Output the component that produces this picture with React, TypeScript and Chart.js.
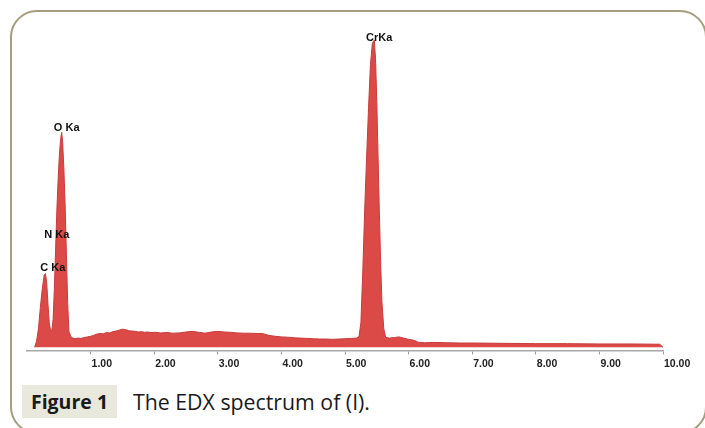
import React, { useEffect, useRef } from "react";
import { Chart, registerables } from "chart.js";

Chart.register(...registerables);

// Spectrum (energy in keV, counts in relative units)
const energy = [
  0.12, 0.15, 0.18, 0.21, 0.24, 0.27, 0.29, 0.31, 0.33, 0.35, 0.37, 0.39, 0.41, 0.43, 0.45, 0.47, 0.49,
  0.51, 0.53, 0.545, 0.56, 0.58, 0.6, 0.62, 0.64, 0.66, 0.69, 0.72, 0.76, 0.8, 0.85, 0.9, 0.95, 1.0,
  1.05, 1.1, 1.15, 1.2, 1.25, 1.3, 1.35, 1.4, 1.45, 1.5, 1.55, 1.6, 1.65, 1.7, 1.75, 1.8, 1.85, 1.9,
  1.95, 2.0, 2.1, 2.2, 2.3, 2.4, 2.5, 2.6, 2.7, 2.8, 2.9, 3.0, 3.1, 3.2, 3.3, 3.4, 3.5, 3.6, 3.7, 3.8,
  3.9, 4.0, 4.1, 4.2, 4.3, 4.4, 4.5, 4.6, 4.7, 4.8, 4.9, 5.0, 5.1, 5.18, 5.22, 5.25, 5.28, 5.31, 5.34,
  5.37, 5.4, 5.43, 5.46, 5.48, 5.5, 5.52, 5.54, 5.56, 5.58, 5.61, 5.64, 5.7, 5.78, 5.85, 5.92, 6.0,
  6.08, 6.12, 6.16, 6.25, 6.4, 6.6, 6.8, 7.0, 7.5, 8.0, 8.5, 9.0, 9.5, 9.95, 10.0,
];
const counts = [
  0, 2, 6, 13, 19, 23.5, 24, 21, 14, 8, 5.5, 5.5, 9, 19, 32, 45, 55,
  63, 68, 70, 67, 58, 46, 30, 14, 5, 3.5, 3, 2.8, 3, 2.9, 3.2, 3.4, 3.6,
  3.9, 4.3, 4.5, 4.4, 4.8, 4.7, 5.1, 5.3, 5.6, 5.9, 5.8, 5.4, 5.3, 5.2, 5.0, 5.1, 4.9, 5.0,
  4.8, 4.9, 4.7, 4.8, 4.6, 4.7, 5.0, 5.2, 4.9, 4.6, 5.0, 5.2, 5.0, 4.9, 4.7, 4.6, 4.6, 4.5, 4.5, 3.9,
  3.6, 3.4, 3.3, 3.1, 3.0, 2.9, 2.8, 2.7, 2.7, 2.6, 2.7, 2.8, 2.9, 3.0, 3.5, 8, 25, 45, 62,
  78, 92, 99, 100, 94, 80, 62, 44, 28, 15, 6, 3.2, 3.0, 3.2, 3.4, 3.0, 2.6,
  2.3, 2.0, 1.6, 1.5, 1.6, 1.5, 1.4, 1.4, 1.3, 1.2, 1.2, 1.1, 1.1, 1.0, 0,
];

// Fitted background line drawn inside the spectrum
const bgEnergy = [0.7, 1.0, 1.5, 2.0, 2.5, 3.0, 3.5, 4.0, 4.5, 5.0, 6.0];
const bgCounts = [2.4, 2.9, 3.4, 3.5, 3.5, 3.4, 3.2, 2.7, 2.3, 2.2, 1.7];

// X axis ticks (keV)
const tickValues = [1, 2, 3, 4, 5, 6, 7, 8, 9, 10];

// Peak labels
const peakLabels = ["C Ka", "N Ka", "O Ka", "CrKa"];
const peakEnergies = [0.28, 0.39, 0.545, 5.46];
const peakLabelLevels = [25.9, 36.5, 71.5, 100.6];

const labelPlugin = {
  id: "peakLabels",
  afterDatasetsDraw(chart: any) {
    const { ctx, scales } = chart;
    const xs = scales.x;
    const ys = scales.y;
    ctx.save();
    ctx.font = "bold 11px 'Liberation Sans', Arial, sans-serif";
    ctx.textAlign = "center";
    ctx.textBaseline = "middle";
    ctx.fillStyle = "#111";
    peakLabels.forEach((t, i) => {
      const x = xs.getPixelForValue(peakEnergies[i]) + (i === 0 ? 8 : 5);
      const y = ys.getPixelForValue(peakLabelLevels[i]);
      ctx.fillText(t, x, y);
    });
    ctx.restore();
  },
};

function EdxChart() {
  const ref = useRef<HTMLCanvasElement | null>(null);
  useEffect(() => {
    if (!ref.current) return;
    const chart = new Chart(ref.current, {
      type: "line",
      data: {
        datasets: [
          {
            data: energy.map((e, i) => ({ x: e, y: counts[i] })),
            fill: "origin",
            backgroundColor: "#dc4a47",
            borderColor: "#c93d3b",
            borderWidth: 1,
            pointRadius: 0,
            tension: 0,
          },
          {
            data: bgEnergy.map((e, i) => ({ x: e, y: bgCounts[i] })),
            fill: false,
            borderColor: "rgba(140,35,35,0.55)",
            borderWidth: 1,
            pointRadius: 0,
            tension: 0,
          },
        ],
      },
      options: {
        animation: false,
        responsive: true,
        maintainAspectRatio: false,
        layout: { padding: { left: 27, right: 42, top: 34, bottom: 7 } },
        plugins: { legend: { display: false }, tooltip: { enabled: false } },
        scales: {
          x: {
            type: "linear",
            min: 0,
            max: 10,
            afterBuildTicks: (s: any) => {
              s.ticks = tickValues.map((v) => ({ value: v }));
            },
            ticks: {
              align: "start",
              labelOffset: 1,
              padding: 3,
              autoSkip: false,
              maxRotation: 0,
              color: "#222",
              font: { family: "'Liberation Sans', Arial, sans-serif", size: 10.5, weight: "bold" },
              callback: (v: any) => Number(v).toFixed(2),
            },
            grid: { drawOnChartArea: false, drawTicks: true, tickLength: 4, color: "#999" },
            border: { color: "#a8a8a8", width: 1.5 },
          },
          y: { display: false, min: -1, max: 102 },
        },
      } as any,
      plugins: [labelPlugin],
    });
    return () => chart.destroy();
  }, []);
  return <canvas ref={ref} />;
}

export default function App() {
  return (
    <div
      style={{
        position: "fixed",
        left: 0,
        top: 0,
        width: 705,
        height: 428,
        overflow: "hidden",
        background: "#fff",
      }}
    >
      <div
        style={{
          position: "absolute",
          left: 10,
          top: 10,
          width: 697,
          height: 424,
          boxSizing: "border-box",
          border: "2px solid #a39e7e",
          borderRadius: 27,
        }}
      />
      <div style={{ position: "absolute", left: 0, top: 0, width: 705, height: 380 }}>
        <EdxChart />
      </div>
      <div
        style={{
          position: "absolute",
          left: 22,
          top: 385,
          width: 95,
          height: 33,
          background: "#e8e8dc",
          display: "flex",
          alignItems: "center",
          justifyContent: "center",
          fontFamily: "'Open Sans', sans-serif",
          fontWeight: 700,
          fontSize: 19.5,
          color: "#1a1a1a",
        }}
      >
        Figure 1
      </div>
      <div
        style={{
          position: "absolute",
          left: 133,
          top: 385,
          height: 33,
          display: "flex",
          alignItems: "center",
          fontFamily: "'Open Sans', sans-serif",
          fontSize: 21.3,
          color: "#1a1a1a",
          whiteSpace: "nowrap",
        }}
      >
        The EDX spectrum of (I).
      </div>
    </div>
  );
}
